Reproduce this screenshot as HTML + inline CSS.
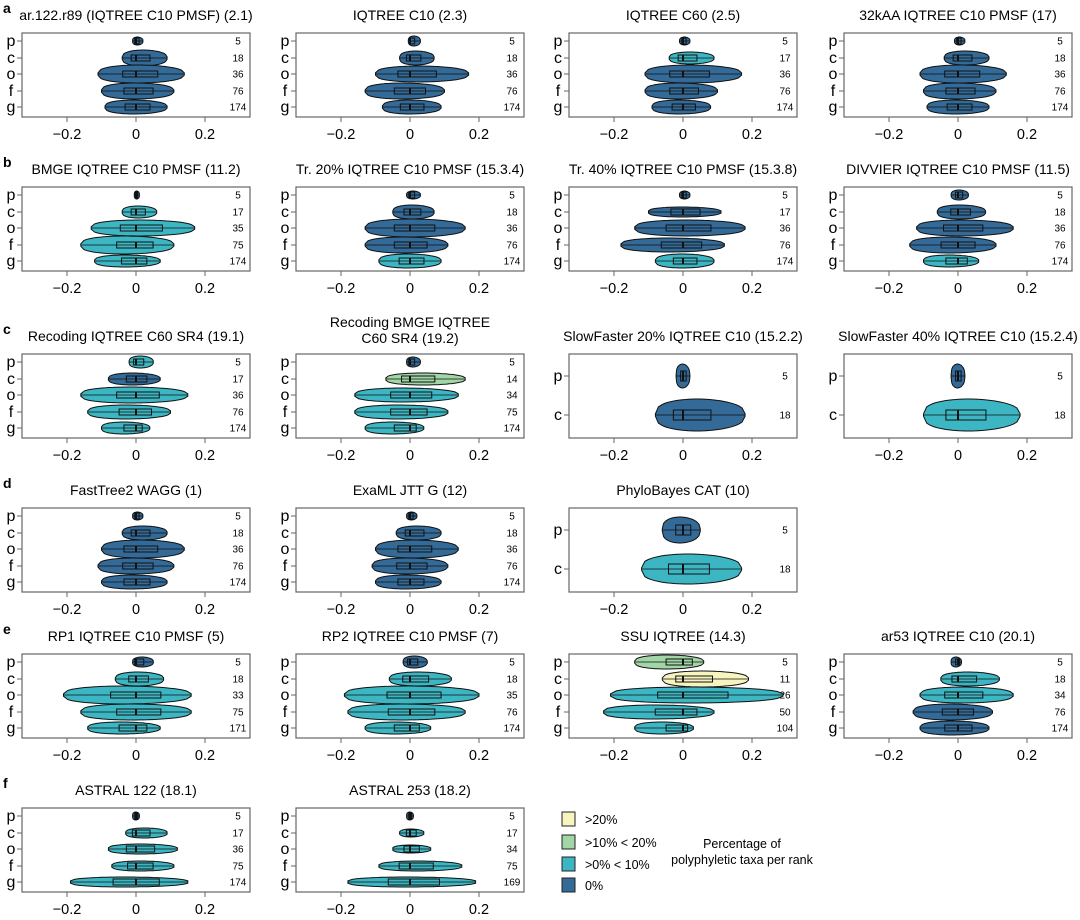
<!DOCTYPE html>
<html><head><meta charset="utf-8"><style>
body{margin:0;background:#fff;}
svg{display:block;font-family:"Liberation Sans",sans-serif;}
</style></head><body>
<svg id="fig" width="1080" height="920" viewBox="0 0 1080 920"></svg>
<script>
const colOff=[0,274,547,822];
const rowOff=[0,154,321,475,621,775];
const letters=['a','b','c','d','e','f'];
const colors={D:'#336a98',T:'#3db6c4',G:'#a3d6a6',Y:'#f7f4bf'};
const ticks=[-0.2,0,0.2];
const tickLabels=['\u22120.2','0','0.2'];
const panelTitles=[
'ar.122.r89 (IQTREE C10 PMSF) (2.1)','IQTREE C10 (2.3)','IQTREE C60 (2.5)','32kAA IQTREE C10 PMSF (17)',
'BMGE IQTREE C10 PMSF (11.2)','Tr. 20% IQTREE C10 PMSF (15.3.4)','Tr. 40% IQTREE C10 PMSF (15.3.8)','DIVVIER IQTREE C10 PMSF (11.5)',
'Recoding IQTREE C60 SR4 (19.1)','Recoding BMGE IQTREE|C60 SR4 (19.2)','SlowFaster 20% IQTREE C10 (15.2.2)','SlowFaster 40% IQTREE C10 (15.2.4)',
'FastTree2 WAGG (1)','ExaML JTT G (12)','PhyloBayes CAT (10)',
'RP1 IQTREE C10 PMSF (5)','RP2 IQTREE C10 PMSF (7)','SSU IQTREE (14.3)','ar53 IQTREE C10 (20.1)',
'ASTRAL 122 (18.1)','ASTRAL 253 (18.2)'];
const panelPos=[[0,0],[0,1],[0,2],[0,3],[1,0],[1,1],[1,2],[1,3],[2,0],[2,1],[2,2],[2,3],[3,0],[3,1],[3,2],[4,0],[4,1],[4,2],[4,3],[5,0],[5,1]];
const L5=['p','c','o','f','g'],L2=['p','c'];
const panelCounts=[[5,18,36,76,174],[5,18,36,76,174],[5,17,36,76,174],[5,18,36,76,174],
[5,17,35,75,174],[5,18,36,76,174],[5,17,36,76,174],[5,18,36,76,174],
[5,17,36,76,174],[5,14,34,75,174],[5,18],[5,18],
[5,18,36,76,174],[5,18,36,76,174],[5,18],
[5,18,33,75,171],[5,18,35,76,174],[5,11,26,50,104],[5,18,34,76,174],
[5,17,36,75,174],[5,17,34,75,169]];
const panelMins=[[-0.01,-0.04,-0.11,-0.1,-0.09],[-0.005,-0.03,-0.1,-0.13,-0.08],[-0.01,-0.04,-0.11,-0.11,-0.09],[-0.01,-0.04,-0.11,-0.1,-0.09],
[-0.005,-0.04,-0.13,-0.16,-0.12],[-0.01,-0.05,-0.13,-0.13,-0.09],[-0.01,-0.1,-0.14,-0.18,-0.08],[-0.02,-0.06,-0.12,-0.14,-0.1],
[-0.02,-0.08,-0.16,-0.14,-0.1],[-0.01,-0.07,-0.16,-0.16,-0.13],[-0.02,-0.08],[-0.02,-0.1],
[-0.01,-0.04,-0.1,-0.11,-0.1],[-0.01,-0.04,-0.1,-0.11,-0.1],[-0.06,-0.12],
[-0.01,-0.06,-0.21,-0.16,-0.14],[-0.02,-0.06,-0.19,-0.18,-0.13],[-0.14,-0.06,-0.21,-0.23,-0.14],[-0.02,-0.05,-0.11,-0.13,-0.11],
[-0.01,-0.03,-0.08,-0.07,-0.19],[-0.01,-0.03,-0.05,-0.09,-0.18]];
const panelMaxs=[[0.02,0.09,0.14,0.11,0.09],[0.03,0.07,0.17,0.1,0.09],[0.02,0.09,0.17,0.1,0.08],[0.02,0.09,0.14,0.11,0.09],
[0.01,0.06,0.17,0.11,0.07],[0.03,0.07,0.16,0.11,0.09],[0.02,0.11,0.18,0.12,0.09],[0.03,0.08,0.16,0.11,0.06],
[0.05,0.07,0.15,0.1,0.04],[0.03,0.16,0.14,0.11,0.04],[0.02,0.18],[0.02,0.18],
[0.02,0.09,0.14,0.11,0.09],[0.02,0.09,0.14,0.11,0.09],[0.05,0.17],
[0.05,0.08,0.16,0.16,0.07],[0.05,0.12,0.2,0.16,0.06],[0.06,0.19,0.29,0.09,0.03],[0.01,0.12,0.16,0.1,0.09],
[0.01,0.09,0.12,0.11,0.15],[0.01,0.04,0.06,0.15,0.19]];
const panelWidths=[[4,8,9,8,7],[5,7,8,8,7],[4,6,9,8,7],[4,7,9,8,7],
[4,6,8,9,6],[4,7,9,8,7],[4,5,8,7,7],[5,7,8,8,6],
[6,6,8,7,6],[5,6,7,7,6],[12,16],[12,16],
[4,7,9,8,7],[4,7,9,8,7],[13,15],
[5,7,9,8,6],[6,7,9,8,6],[7,8,8,7,6],[5,7,8,8,7],
[4,5,5,5,5],[4,4,4,5,5]];
const panelColors=['DDDDD','DDDDD','DTDDD','DDDDD','DTTTT','DDDDT','DDDDT','DDDDT','TDTTT','DGTTT','DD','DT','DDDDD','DDDDD','DT','DTTTT','DTTTT','GYTTT','DTTDD','DTTTT','DTTTT'];

const svg=document.getElementById('fig');
const NS='http://www.w3.org/2000/svg';
function mk(tag,attrs,parent){const e=document.createElementNS(NS,tag);for(const k in attrs)e.setAttribute(k,attrs[k]);(parent||svg).appendChild(e);return e;}

letters.forEach((l,i)=>{
  const t=mk('text',{x:3,y:rowOff[i]+13,'font-size':14,'font-weight':'bold'});
  t.textContent=l;
  
  
});

panelTitles.forEach((title,pi)=>{
  const [r,c]=panelPos[pi];
  const ox=colOff[c],oy=rowOff[r];
  const zero=136+ox;
  const xs=v=>zero+v*345;
  const g=mk('g',{});
  
  
  const parts=title.split('|');
  parts.forEach((p,k)=>{
    const t=mk('text',{x:136+ox,y:oy+(parts.length>1?6+k*16:20),'text-anchor':'middle','font-size':14},g);
    t.textContent=p;
    
    
  });
  const fr=mk('rect',{x:22+ox,y:oy+33,width:228,height:84,fill:'none',stroke:'#666','stroke-width':1.2},g);
  
  
  ticks.forEach((tv,k)=>{
    mk('line',{x1:xs(tv),x2:xs(tv),y1:oy+117,y2:oy+122,stroke:'#666'},g);
    const t=mk('text',{x:xs(tv),y:oy+139,'text-anchor':'middle','font-size':14.5},g);
    t.textContent=tickLabels[k];
    
    
  });
  const counts=panelCounts[pi];
  const n=counts.length;
  const ys=n===5?[41,58,74,91,107]:[55,94];
  for(let i=0;i<n;i++){
    const y=oy+ys[i];
    const lab=(n===5?L5:L2)[i];
    mk('line',{x1:17+ox,x2:22+ox,y1:y,y2:y,stroke:'#666'},g);
    const lt=mk('text',{x:11+ox,y:y+5,'text-anchor':'middle','font-size':16},g);
    lt.textContent=lab;
    
    
    const ct=mk('text',{x:238+ox,y:y+3.5,'text-anchor':'middle','font-size':10},g);
    ct.textContent=counts[i];
    
    
    const mn=panelMins[pi][i],mx=panelMaxs[pi][i],w=panelWidths[pi][i];
    const x0=xs(mn),x1=xs(mx);
    const N=30;let top=[],bot=[];
    for(let k=0;k<=N;k++){
      const t=k/N;
      const hw=Math.max(1.2,w*Math.pow(Math.sin(Math.PI*Math.pow(t,0.9)),0.35));
      const x=x0+(x1-x0)*t;
      top.push(x.toFixed(1)+','+(y-hw).toFixed(1));
      bot.unshift(x.toFixed(1)+','+(y+hw).toFixed(1));
    }
    const vp=mk('polygon',{points:top.concat(bot).join(' '),fill:colors[panelColors[pi][i]],stroke:'#111','stroke-width':1},g);
    
    
    mk('line',{x1:x0,x2:x1,y1:y,y2:y,stroke:'#111','stroke-width':0.8},g);
    const q1=xs(mn*0.35),q3=xs(mx*0.45);
    const bh=n===5?3:5;
    const bx=mk('rect',{x:q1,y:y-bh,width:Math.max(2,q3-q1),height:bh*2,fill:'none',stroke:'#111','stroke-width':1},g);
    
    
    mk('line',{x1:zero,x2:zero,y1:y-bh,y2:y+bh,stroke:'#111','stroke-width':2},g);
  }
});

const legLabels=['>20%','>10% < 20%','>0% < 10%','0%'];
const legCols=['Y','G','T','D'];
const legY=[812,835,857,878];
legLabels.forEach((l,i)=>{
  const r=mk('rect',{x:562,y:legY[i],width:13,height:14,fill:colors[legCols[i]],stroke:'#222','stroke-width':1});
  
  
  const t=mk('text',{x:585,y:legY[i]+12,'font-size':12.5});
  t.textContent=l;
  
  
});
['Percentage of','polyphyletic taxa per rank'].forEach((s,k)=>{
  const t=mk('text',{x:742,y:848+k*16,'text-anchor':'middle','font-size':12.5});
  t.textContent=s;
  
  
});
</script>
</body></html>
